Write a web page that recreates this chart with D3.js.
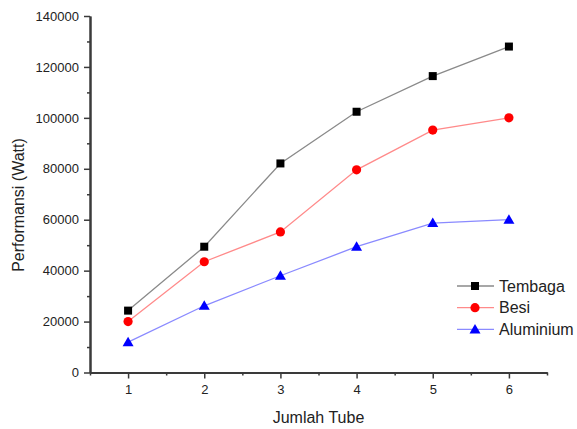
<!DOCTYPE html>
<html>
<head>
<meta charset="utf-8">
<script src="https://cdn.jsdelivr.net/npm/d3@7"></script>
<style>
  html, body { margin: 0; padding: 0; background: #fff; }
  svg { display: block; font-family: "Liberation Sans", Arial, sans-serif; }
</style>
</head>
<body>
<svg id="chart" width="577" height="429"></svg>
<script>
// Number of tubes on the x axis
const tubes = [1, 2, 3, 4, 5, 6];

// Performance (Watt) per material
const tembaga   = [24300, 49400, 82100, 102400, 116400, 128000];
const besi      = [20000, 43500, 55200, 79600, 95200, 100000];
const aluminium = [11900, 26200, 38000, 49400, 58700, 60000];

const yTicks = [0, 20000, 40000, 60000, 80000, 100000, 120000, 140000];
const xTicks = [1, 2, 3, 4, 5, 6];

const seriesNames = ["Tembaga", "Besi", "Aluminium"];

const series = [
  { name: seriesNames[0], values: tembaga,   line: "#8a8a8a", fill: "#000000", shape: "square" },
  { name: seriesNames[1], values: besi,      line: "#ff8a8a", fill: "#ff0000", shape: "circle" },
  { name: seriesNames[2], values: aluminium, line: "#8a8aff", fill: "#0000ff", shape: "triangle" }
];

const svg = d3.select("#chart");
const plotLeft = 90, plotRight = 547, plotTop = 16, plotBottom = 372.5;

const x = d3.scaleLinear().domain([0.5, 6.5]).range([plotLeft, plotRight]);
const y = d3.scaleLinear().domain([0, 140000]).range([plotBottom, plotTop]);

const axisColor = "#3a3a3a";

// Minor ticks
const xMinor = d3.range(0.5, 6.51, 0.5).filter(v => !xTicks.includes(v));
const yMinor = d3.range(10000, 140000, 20000);

// X axis
const gx = svg.append("g").attr("transform", `translate(0,${plotBottom})`);
gx.call(d3.axisBottom(x).tickValues(xTicks).tickFormat(d3.format("d")).tickSize(6).tickSizeOuter(0).tickPadding(6));
gx.append("g").call(d3.axisBottom(x).tickValues(xMinor).tickFormat("").tickSize(3).tickSizeOuter(0));

// Y axis
const gy = svg.append("g").attr("transform", `translate(${plotLeft},0)`);
gy.call(d3.axisLeft(y).tickValues(yTicks).tickFormat(d3.format("d")).tickSize(6).tickSizeOuter(0).tickPadding(5));
gy.append("g").call(d3.axisLeft(y).tickValues(yMinor).tickFormat("").tickSize(3).tickSizeOuter(0));

svg.selectAll(".domain").attr("stroke", axisColor).attr("stroke-width", 2);
svg.selectAll(".tick line").attr("stroke", axisColor).attr("stroke-width", 1.5);
svg.selectAll(".tick text")
  .attr("fill", "#222")
  .attr("font-size", 13)
  .attr("font-family", "Liberation Sans, Arial, sans-serif");

// Axis titles
svg.append("text")
  .attr("x", (plotLeft + plotRight) / 2)
  .attr("y", 423)
  .attr("text-anchor", "middle")
  .attr("font-size", 16)
  .attr("fill", "#222")
  .text("Jumlah Tube");

svg.append("text")
  .attr("transform", "translate(24,205) rotate(-90)")
  .attr("text-anchor", "middle")
  .attr("font-size", 16)
  .attr("fill", "#222")
  .text("Performansi (Watt)");

// Marker drawing
function marker(g, shape, fill) {
  if (shape === "square") {
    g.append("rect").attr("x", -4).attr("y", -4).attr("width", 8).attr("height", 8).attr("fill", fill);
  } else if (shape === "circle") {
    g.append("circle").attr("r", 4.6).attr("fill", fill);
  } else {
    g.append("path").attr("d", "M0,-5.5L5.5,4L-5.5,4Z").attr("fill", fill);
  }
}

const line = d3.line().x((d, i) => x(tubes[i])).y(d => y(d));

series.forEach(s => {
  svg.append("path")
    .datum(s.values)
    .attr("d", line)
    .attr("fill", "none")
    .attr("stroke", s.line)
    .attr("stroke-width", 1.3);
  s.values.forEach((v, i) => {
    const g = svg.append("g").attr("transform", `translate(${x(tubes[i])},${y(v)})`);
    marker(g, s.shape, s.fill);
  });
});

// Legend
const legend = svg.append("g");
series.forEach((s, i) => {
  const ly = 286 + i * 21.7;
  legend.append("line")
    .attr("x1", 457).attr("x2", 494).attr("y1", ly).attr("y2", ly)
    .attr("stroke", s.line).attr("stroke-width", 1.3);
  const g = legend.append("g").attr("transform", `translate(475,${ly})`);
  marker(g, s.shape, s.fill);
  legend.append("text")
    .attr("x", 499).attr("y", ly).attr("dy", "0.36em")
    .attr("font-size", 16).attr("fill", "#222")
    .text(s.name);
});
</script>
</body>
</html>
